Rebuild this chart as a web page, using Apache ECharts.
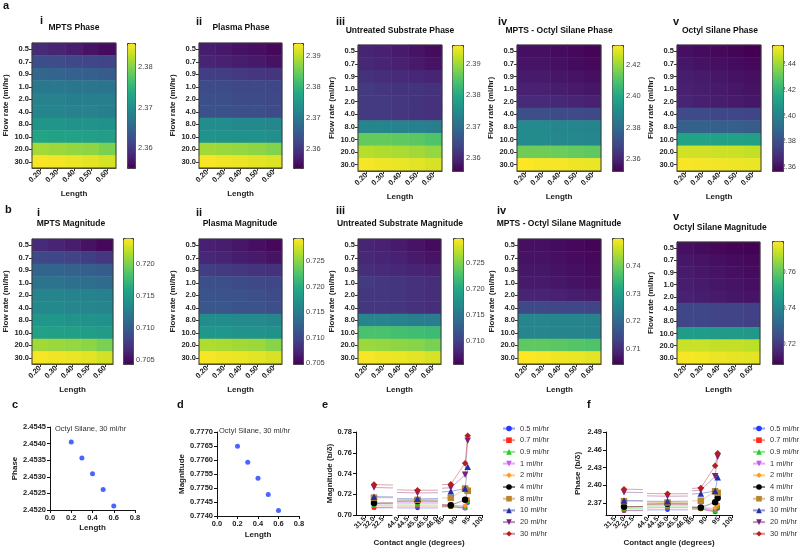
<!DOCTYPE html>
<html><head><meta charset="utf-8">
<script src="https://cdn.jsdelivr.net/npm/echarts@6/dist/echarts.min.js"></script>
<style>html,body{margin:0;padding:0;background:#fff}#c{width:799px;height:547px}</style>
</head><body><div id="c"></div>
<script>
// ---------------- DATA ----------------
const flowRates = ['0.5','0.7','0.9','1.0','2.0','4.0','8.0','10.0','20.0','30.0'];
const lengths = ['0.20','0.30','0.40','0.50','0.60'];
const lengthValues = [0.2, 0.3, 0.4, 0.5, 0.6];

const mptsPhase = [
 [2.3587,2.3581,2.3575,2.3566,2.3559],[2.3624,2.3621,2.3618,2.3615,2.3612],[2.3652,2.3649,2.3646,2.3643,2.3640],
 [2.3674,2.3674,2.3671,2.3671,2.3668],[2.3686,2.3686,2.3683,2.3683,2.3680],[2.3690,2.3690,2.3686,2.3686,2.3683],
 [2.3711,2.3711,2.3708,2.3708,2.3705],[2.3730,2.3727,2.3727,2.3724,2.3721],[2.3817,2.3814,2.3810,2.3807,2.3798],
 [2.3857,2.3854,2.3851,2.3848,2.3841]];
const plasmaPhase = [
 [2.3572,2.3568,2.3560,2.3556,2.3548],[2.3580,2.3576,2.3572,2.3568,2.3560],[2.3612,2.3612,2.3608,2.3604,2.3600],
 [2.3632,2.3632,2.3628,2.3628,2.3624],[2.3636,2.3636,2.3632,2.3632,2.3628],[2.3640,2.3640,2.3636,2.3636,2.3632],
 [2.3732,2.3732,2.3728,2.3728,2.3724],[2.3744,2.3744,2.3740,2.3740,2.3736],[2.3884,2.3880,2.3876,2.3872,2.3864],
 [2.3936,2.3932,2.3928,2.3924,2.3920]];
const untreatedPhase = [
 [2.3600,2.3596,2.3588,2.3580,2.3572],[2.3604,2.3600,2.3596,2.3588,2.3580],[2.3616,2.3612,2.3608,2.3604,2.3600],
 [2.3628,2.3624,2.3620,2.3620,2.3616],[2.3628,2.3628,2.3624,2.3620,2.3616],[2.3628,2.3628,2.3624,2.3620,2.3616],
 [2.3740,2.3740,2.3736,2.3732,2.3728],[2.3864,2.3864,2.3860,2.3856,2.3848],[2.3916,2.3912,2.3908,2.3904,2.3896],
 [2.3956,2.3952,2.3948,2.3944,2.3936]];
const mptsOctylPhase = [
 [2.3552,2.3552,2.3544,2.3536,2.3528],[2.3561,2.3561,2.3552,2.3544,2.3536],[2.3577,2.3577,2.3569,2.3561,2.3552],
 [2.3593,2.3593,2.3585,2.3577,2.3569],[2.3617,2.3617,2.3609,2.3601,2.3593],[2.3714,2.3714,2.3706,2.3706,2.3698],
 [2.3901,2.3901,2.3893,2.3893,2.3885],[2.3905,2.3905,2.3897,2.3897,2.3889],[2.4152,2.4152,2.4144,2.4136,2.4128],
 [2.4330,2.4322,2.4322,2.4314,2.4306]];
const octylPhase = [
 [2.3609,2.3599,2.3590,2.3580,2.3570],[2.3629,2.3619,2.3609,2.3599,2.3590],[2.3648,2.3639,2.3629,2.3619,2.3609],
 [2.3658,2.3648,2.3639,2.3629,2.3619],[2.3668,2.3658,2.3648,2.3639,2.3629],[2.3786,2.3786,2.3776,2.3776,2.3766],
 [2.3874,2.3874,2.3864,2.3864,2.3854],[2.4138,2.4138,2.4129,2.4129,2.4119],[2.4481,2.4481,2.4472,2.4472,2.4462],
 [2.4541,2.4536,2.4531,2.4526,2.4521]];

const mptsMag = [
 [0.70675,0.70636,0.70597,0.70538,0.70479],[0.70871,0.70852,0.70832,0.70793,0.70754],[0.71067,0.71067,0.71048,0.71028,0.71008],
 [0.71185,0.71185,0.71165,0.71146,0.71126],[0.71322,0.71322,0.71302,0.71302,0.71283],[0.71361,0.71361,0.71342,0.71342,0.71322],
 [0.71459,0.71459,0.71440,0.71440,0.71420],[0.71557,0.71538,0.71538,0.71518,0.71498],[0.72126,0.72106,0.72086,0.72067,0.72008],
 [0.72380,0.72361,0.72341,0.72322,0.72263]];
const plasmaMag = [
 [0.70702,0.70678,0.70628,0.70579,0.70529],[0.70752,0.70727,0.70678,0.70653,0.70604],[0.70925,0.70900,0.70875,0.70851,0.70826],
 [0.71073,0.71073,0.71048,0.71023,0.70999],[0.71122,0.71122,0.71098,0.71073,0.71048],[0.71147,0.71147,0.71122,0.71098,0.71073],
 [0.71666,0.71666,0.71641,0.71641,0.71616],[0.71764,0.71764,0.71740,0.71740,0.71715],[0.72654,0.72629,0.72604,0.72580,0.72505],
 [0.72925,0.72901,0.72876,0.72851,0.72802]];
const untreatedMag = [
 [0.70794,0.70770,0.70721,0.70672,0.70623],[0.70818,0.70794,0.70770,0.70721,0.70672],[0.70867,0.70843,0.70818,0.70794,0.70770],
 [0.70965,0.70940,0.70916,0.70892,0.70867],[0.70940,0.70940,0.70916,0.70892,0.70867],[0.70940,0.70940,0.70916,0.70892,0.70867],
 [0.71648,0.71648,0.71624,0.71599,0.71575],[0.72282,0.72282,0.72258,0.72234,0.72209],[0.72624,0.72600,0.72575,0.72551,0.72502],
 [0.72966,0.72941,0.72917,0.72892,0.72844]];
const mptsOctylMag = [
 [0.70642,0.70642,0.70596,0.70551,0.70505],[0.70687,0.70687,0.70642,0.70596,0.70551],[0.70732,0.70732,0.70687,0.70642,0.70596],
 [0.70778,0.70778,0.70732,0.70687,0.70642],[0.70914,0.70914,0.70869,0.70823,0.70778],[0.71459,0.71459,0.71413,0.71413,0.71368],
 [0.72548,0.72548,0.72503,0.72503,0.72458],[0.72548,0.72548,0.72503,0.72503,0.72458],[0.73865,0.73865,0.73820,0.73774,0.73729],
 [0.75000,0.74955,0.74909,0.74864,0.74818]];
const octylMag = [
 [0.71172,0.71104,0.71036,0.70968,0.70900],[0.71308,0.71240,0.71172,0.71104,0.71036],[0.71376,0.71308,0.71240,0.71172,0.71104],
 [0.71444,0.71376,0.71308,0.71240,0.71172],[0.71512,0.71444,0.71376,0.71308,0.71240],[0.72328,0.72328,0.72260,0.72260,0.72192],
 [0.72328,0.72328,0.72260,0.72260,0.72192],[0.74640,0.74640,0.74572,0.74572,0.74504],[0.77156,0.77156,0.77088,0.77088,0.77020],
 [0.7765,0.7759,0.7753,0.7748,0.7742]];

const phaseRanges = [[2.355,2.386],[2.354,2.394],[2.356,2.396],[2.352,2.433],[2.357,2.455]];
const phaseTicks = [[2.36,2.37,2.38],[2.36,2.37,2.38,2.39],[2.36,2.37,2.38,2.39],[2.36,2.38,2.40,2.42],[2.36,2.38,2.40,2.42,2.44]];
const magRanges = [[0.7044,0.7240],[0.7048,0.7295],[0.7055,0.7299],[0.7046,0.7500],[0.7089,0.7771]];
const magTicks = [[0.705,0.710,0.715,0.720],[0.705,0.710,0.715,0.720,0.725],[0.710,0.715,0.720,0.725],[0.71,0.72,0.73,0.74],[0.72,0.74,0.76]];

const phaseTitles = ['MPTS Phase','Plasma Phase','Untreated Substrate Phase','MPTS - Octyl Silane Phase','Octyl Silane Phase'];
const magTitles = ['MPTS Magnitude','Plasma Magnitude','Untreated Substrate Magnitude','MPTS - Octyl Silane Magnitude','Octyl Silane Magnitude'];
const numerals = ['i','ii','iii','iv','v'];

// panels c, d
const octylPhase30 = [2.45405, 2.45357, 2.45309, 2.45262, 2.45212];
const octylMag30 = [0.77649, 0.77592, 0.77535, 0.77477, 0.77420];
const cYTicks = [2.4520, 2.4525, 2.4530, 2.4535, 2.4540, 2.4545];
const dYTicks = [0.7740, 0.7745, 0.7750, 0.7755, 0.7760, 0.7765, 0.7770];
const lengthTicks = [0, 0.2, 0.4, 0.6, 0.8];

// panels e, f
const flowLabels = ['0.5 ml/hr','0.7 ml/hr','0.9 ml/hr','1 ml/hr','2 ml/hr','4 ml/hr','8 ml/hr','10 ml/hr','20 ml/hr','30 ml/hr'];
const contactAngles = [32, 45, 88, 93.5, 94.5];
const lineMag = [
 [0.7070,0.7068,0.7079,0.7064,0.7117],[0.7075,0.7087,0.7082,0.7069,0.7131],[0.7093,0.7107,0.7087,0.7073,0.7138],
 [0.7107,0.7119,0.7097,0.7078,0.7144],[0.7112,0.7132,0.7094,0.7091,0.7151],[0.7115,0.7136,0.7094,0.7146,0.7233],
 [0.7167,0.7146,0.7165,0.7255,0.7233],[0.7176,0.7156,0.7228,0.7255,0.7464],[0.7265,0.7213,0.7262,0.7387,0.7716],
 [0.7293,0.7238,0.7297,0.7500,0.7765]];
const linePhase = [
 [2.3572,2.3587,2.3600,2.3552,2.3609],[2.3580,2.3624,2.3604,2.3561,2.3629],[2.3612,2.3652,2.3616,2.3577,2.3648],
 [2.3632,2.3674,2.3628,2.3593,2.3658],[2.3636,2.3686,2.3628,2.3617,2.3668],[2.3640,2.3690,2.3628,2.3714,2.3786],
 [2.3732,2.3711,2.3740,2.3901,2.3874],[2.3744,2.3730,2.3864,2.3905,2.4138],[2.3884,2.3817,2.3916,2.4152,2.4481],
 [2.3936,2.3857,2.3956,2.4330,2.4541]];
const eYTicks = [0.70, 0.72, 0.74, 0.76, 0.78];
const fYTicks = [2.37, 2.40, 2.43, 2.46, 2.49];

// ---------------- STYLE / LAYOUT ----------------
const FONT = '"Liberation Sans", Arial, sans-serif';
const viridis = ['#440154','#482475','#414487','#355f8d','#2a788e','#21918c','#22a884','#44bf70','#7ad151','#bddf26','#fde725'];
const seriesColors = ['#1f3cff','#ff2a1a','#22cc22','#cc55ee','#ff9c1a','#000000','#b8862e','#1f30a8','#7a1f7a','#b81c1c'];
const INV_TRI = 'path://M0,0 L10,0 L5,9 Z';
const seriesSymbols = ['circle','rect','triangle',INV_TRI,'diamond','circle','rect','triangle',INV_TRI,'diamond'];
const seriesSizes = [4.5,4.5,5,5,5,6.5,6.5,6.5,6.5,6.5];

const layoutA = [
 {l:32,t:43,w:84,h:125,cb:127,cbt:43,cbw:8,cbh:125},
 {l:199,t:43,w:83,h:125,cb:293,cbt:43,cbw:10,cbh:125},
 {l:358,t:45,w:84,h:126,cb:452,cbt:45,cbw:11,cbh:126},
 {l:517,t:45,w:84,h:126,cb:612,cbt:45,cbw:11,cbh:126},
 {l:677,t:45,w:84,h:126,cb:772,cbt:45,cbw:11,cbh:126}];
const layoutB = [
 {l:32,t:239,w:81,h:125,cb:123,cbt:238,cbw:10,cbh:126},
 {l:199,t:239,w:83,h:125,cb:293,cbt:238,cbw:10,cbh:126},
 {l:358,t:239,w:83,h:125,cb:453,cbt:238,cbw:10,cbh:126},
 {l:518,t:239,w:83,h:125,cb:612,cbt:238,cbw:11,cbh:126},
 {l:677,t:242,w:83,h:122,cb:772,cbt:241,cbw:11,cbh:123}];
const titlePosA = [[74,28],[241,28],[400,31],[559,31],[720,31]];
const numPosA = [[40,21],[196,22],[336,22],[498,22],[673,22]];
const titlePosB = [[71,224],[240,224],[400,224],[559,224],[720,228]];
const numPosB = [[37,213],[196,213],[336,211],[497,211],[673,217]];

const option = {animation:false, backgroundColor:'#fff', grid:[], xAxis:[], yAxis:[], series:[], visualMap:[], legend:[], graphic:[]};
function addGrid(g){ option.grid.push(g); return option.grid.length-1; }
function txt(s, x, y, font, align, valign, color){
  option.graphic.push({type:'text', x:x, y:y, silent:true, style:{text:s, font:font, fill:color||'#111', textAlign:align||'left', textVerticalAlign:valign||'middle', align:align||'left', verticalAlign:valign||'middle'}});
}
const tickLabel = {fontSize:7.5, fontWeight:'bold', color:'#222', fontFamily:FONT};
const nameStyle = {fontSize:8, fontWeight:'bold', color:'#222', fontFamily:FONT};

function heatPanel(data, L, range, ticks, dec){
  const gi = addGrid({left:L.l, top:L.t, width:L.w, height:L.h, show:true, borderColor:'#3a3a3a', borderWidth:1, backgroundColor:'rgba(0,0,0,0)', z:10});
  const xi = option.xAxis.push({gridIndex:gi, type:'category', data:lengths, position:'bottom',
    axisLine:{show:true, lineStyle:{color:'#333'}}, axisTick:{show:true, alignWithLabel:true, length:3, lineStyle:{color:'#333'}},
    axisLabel:Object.assign({rotate:45, margin:3}, tickLabel), splitLine:{show:false},
    name:'Length', nameLocation:'middle', nameGap:22, nameTextStyle:nameStyle}) - 1;
  const yi = option.yAxis.push({gridIndex:gi, type:'category', data:flowRates, inverse:true,
    axisLine:{show:true, lineStyle:{color:'#333'}}, axisTick:{show:true, alignWithLabel:true, length:3, lineStyle:{color:'#333'}},
    axisLabel:Object.assign({margin:3}, tickLabel), splitLine:{show:false},
    name:'Flow rate (ml/hr)', nameLocation:'middle', nameGap:22, nameTextStyle:nameStyle}) - 1;
  const cells = [];
  data.forEach((row, r) => row.forEach((v, c) => cells.push([c, r, v])));
  const si = option.series.push({type:'heatmap', xAxisIndex:xi, yAxisIndex:yi, data:cells, emphasis:{disabled:true}, progressive:0, silent:true}) - 1;
  option.visualMap.push({type:'continuous', seriesIndex:si, dimension:2, min:range[0], max:range[1], inRange:{color:viridis},
    calculable:false, hoverLink:false, orient:'vertical', left:L.cb, top:L.cbt, itemWidth:L.cbw, itemHeight:L.cbh, padding:0,
    borderColor:'#333', borderWidth:1});
  const cg = addGrid({left:L.cb, top:L.cbt, width:L.cbw, height:L.cbh, show:false});
  option.xAxis.push({gridIndex:cg, type:'value', show:false, min:0, max:1});
  option.yAxis.push({gridIndex:cg, type:'value', position:'right', min:range[0], max:range[1],
    axisLine:{show:false}, splitLine:{show:false},
    axisTick:{show:true, length:2, customValues:ticks, lineStyle:{color:'#333'}},
    axisLabel:{customValues:ticks, formatter:v=>v.toFixed(dec), fontSize:7.5, color:'#444', margin:3, fontFamily:FONT}});
}

[mptsPhase, plasmaPhase, untreatedPhase, mptsOctylPhase, octylPhase].forEach((d, k) => {
  heatPanel(d, layoutA[k], phaseRanges[k], phaseTicks[k], 2);
  txt(phaseTitles[k], titlePosA[k][0], titlePosA[k][1], 'bold 8.5px ' + FONT, 'center');
  txt(numerals[k], numPosA[k][0], numPosA[k][1], 'bold 11px ' + FONT, 'left');
});
[mptsMag, plasmaMag, untreatedMag, mptsOctylMag, octylMag].forEach((d, k) => {
  heatPanel(d, layoutB[k], magRanges[k], magTicks[k], k < 3 ? 3 : 2);
  txt(magTitles[k], titlePosB[k][0], titlePosB[k][1], 'bold 8.5px ' + FONT, 'center');
  txt(numerals[k], numPosB[k][0], numPosB[k][1], 'bold 11px ' + FONT, 'left');
});
txt('a', 3, 6, 'bold 11px ' + FONT);
txt('b', 5, 210, 'bold 11px ' + FONT);
txt('c', 12, 405, 'bold 11px ' + FONT);
txt('d', 177, 405, 'bold 11px ' + FONT);
txt('e', 322, 405, 'bold 11px ' + FONT);
txt('f', 587, 405, 'bold 11px ' + FONT);

// scatter panels c, d
function scatterPanel(box, yVals, yTicks, yMin, yMax, yDec, yName, yNameGap, xNameGap){
  const gi = addGrid({left:box[0], top:box[1], width:box[2], height:box[3]});
  const xi = option.xAxis.push({gridIndex:gi, type:'value', min:0, max:0.8,
    axisLine:{show:true, onZero:false, lineStyle:{color:'#111'}}, axisTick:{show:true, length:3, customValues:lengthTicks, lineStyle:{color:'#111'}},
    axisLabel:Object.assign({customValues:lengthTicks, formatter:v=>v.toFixed(1), margin:4}, tickLabel), splitLine:{show:false},
    name:'Length', nameLocation:'middle', nameGap:xNameGap, nameTextStyle:nameStyle}) - 1;
  const yi = option.yAxis.push({gridIndex:gi, type:'value', min:yMin, max:yMax,
    axisLine:{show:true, onZero:false, lineStyle:{color:'#111'}}, axisTick:{show:true, length:3, customValues:yTicks, lineStyle:{color:'#111'}},
    axisLabel:Object.assign({customValues:yTicks, formatter:v=>v.toFixed(yDec), margin:4}, tickLabel), splitLine:{show:false},
    name:yName, nameLocation:'middle', nameGap:yNameGap, nameTextStyle:nameStyle}) - 1;
  option.series.push({type:'scatter', xAxisIndex:xi, yAxisIndex:yi, data:lengthValues.map((x,i)=>[x, yVals[i]]),
    symbol:'circle', symbolSize:5, itemStyle:{color:'#1f3cff'}, silent:true});
}
scatterPanel([50,427,85,83], octylPhase30, cYTicks, 2.4520, 2.4545, 4, 'Phase', 28, 14);
scatterPanel([217,432,82,84], octylMag30, dYTicks, 0.7740, 0.7770, 4, 'Magnitude', 30, 15);
txt('Octyl Silane, 30 ml/hr', 55, 429, '7.5px ' + FONT, 'left', 'middle', '#333');
txt('Octyl Silane, 30 ml/hr', 219, 431, '7.5px ' + FONT, 'left', 'middle', '#333');

// broken-axis line panels e, f
function linePanel(values, yMin, yMax, yTicks, yName, yNameGap, x0, legendLeft){
  const segs = [
    {min:31, max:33, interval:0.5, l:x0, w:36, dec:1},
    {min:44, max:46, interval:0.5, l:x0+42, w:39, dec:1},
    {min:85, max:100, interval:5, l:x0+87, w:39, dec:0}];
  segs.forEach((s, k) => {
    const gi = addGrid({left:s.l, top:432, width:s.w, height:83});
    const xi = option.xAxis.push({gridIndex:gi, type:'value', min:s.min, max:s.max, interval:s.interval,
      axisLine:{show:true, onZero:false, lineStyle:{color:'#111'}}, axisTick:{show:true, length:3, lineStyle:{color:'#111'}},
      axisLabel:Object.assign({rotate:45, margin:3, formatter:v=>v.toFixed(s.dec)}, tickLabel, {fontSize:7}), splitLine:{show:false}}) - 1;
    const yi = option.yAxis.push({gridIndex:gi, type:'value', min:yMin, max:yMax, show:k===0,
      axisLine:{show:true, onZero:false, lineStyle:{color:'#111'}}, axisTick:{show:true, length:3, customValues:yTicks, lineStyle:{color:'#111'}},
      axisLabel:Object.assign({customValues:yTicks, formatter:v=>v.toFixed(2), margin:4}, tickLabel), splitLine:{show:false},
      name:yName, nameLocation:'middle', nameGap:yNameGap, nameTextStyle:nameStyle}) - 1;
    values.forEach((row, f) => {
      option.series.push({type:'line', name:flowLabels[f], xAxisIndex:xi, yAxisIndex:yi, clip:true,
        data:contactAngles.map((a, j) => [a, row[j]]),
        symbol:seriesSymbols[f], symbolSize:seriesSizes[f], showAllSymbol:true,
        itemStyle:{color:seriesColors[f]}, lineStyle:{width:0.8, opacity:0.5, color:seriesColors[f]}, silent:true, z:3 + f * 0.01});
    });
  });
  option.legend.push({data:flowLabels, orient:'vertical', left:legendLeft, top:419, itemWidth:12, itemHeight:7, itemGap:2.7,
    selectedMode:false, textStyle:{fontSize:7.5, color:'#333', fontFamily:FONT, lineHeight:9}});
  txt('Contact angle (degrees)', x0 + 63, 543, 'bold 8px ' + FONT, 'center', 'middle', '#222');
}
linePanel(lineMag, 0.70, 0.78, eYTicks, 'Magnitude (b/\u03b4)', 21, 356, 497);
linePanel(linePhase, 2.35, 2.49, fYTicks, 'Phase (b/\u03b4)', 24, 606, 747);

const chart = echarts.init(document.getElementById('c'), null, {renderer:'canvas'});
chart.setOption(option);
</script></body></html>
